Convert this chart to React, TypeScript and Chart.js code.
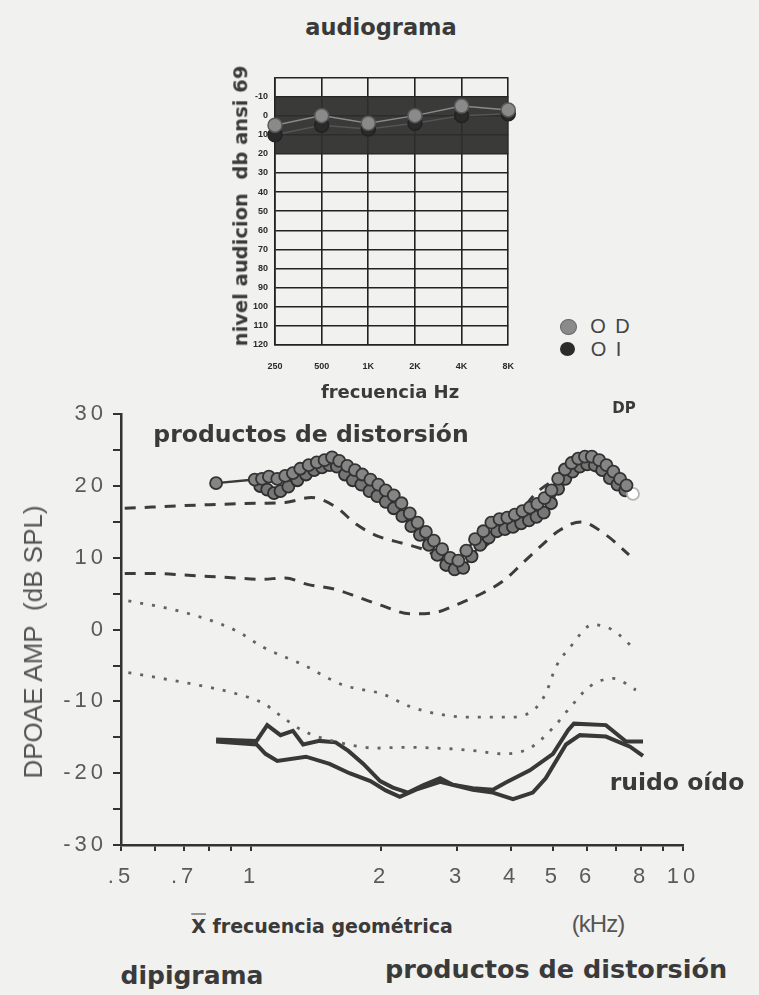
import React, { useEffect, useRef } from 'react';
import { Chart, registerables } from 'chart.js';

Chart.register(...registerables);

const SANS = '"Liberation Sans", Arial, Helvetica, sans-serif';
const WIDE = '"DejaVu Sans", Verdana, sans-serif';

// ---------- audiogram ----------
const audioFreqLabels = ['250', '500', '1K', '2K', '4K', '8K'];
const audioOD = [5, 0, 4, 0, -5, -3];
const audioOI = [10, 5, 7, 4, 0, -1];
const audioMin = -20;
const audioMax = 120;
const audioBandTop = -10;
const audioBandBottom = 20;

// ---------- DPOAE ----------
const xTickValues = [0.5, 0.6, 0.7, 0.8, 0.9, 1, 2, 3, 4, 5, 6, 7, 8, 9, 10];
const xTickLabels: [number, string][] = [
  [0.5, '.5'], [0.7, '.7'], [1, '1'], [2, '2'], [3, '3'], [4, '4'], [5, '5'], [6, '6'], [8, '8'], [10, '10'],
];

const dpFreqA = [0.83, 1.02, 1.06, 1.1, 1.15, 1.2, 1.25, 1.3, 1.36, 1.42, 1.48, 1.54, 1.6, 1.67, 1.74, 1.81, 1.89, 1.97, 2.05, 2.14, 2.23, 2.33, 2.43, 2.54, 2.65, 2.77, 2.89, 3.02, 3.15, 3.3, 3.45, 3.6, 3.76, 3.92, 4.08, 4.25, 4.42, 4.6, 4.78, 4.96, 5.14, 5.33, 5.52, 5.72, 5.93, 6.15, 6.4, 6.65, 6.9, 7.15, 7.4];
const dpAmpA = [20.4, 20.9, 21.0, 21.3, 21.0, 21.4, 21.8, 22.4, 22.9, 23.3, 23.6, 24.0, 23.5, 22.8, 22.2, 21.6, 20.9, 20.2, 19.4, 18.7, 17.6, 16.2, 14.9, 13.6, 12.4, 11.2, 10.0, 9.6, 11.0, 12.6, 13.7, 14.9, 15.4, 15.6, 16.0, 16.5, 17.0, 17.5, 18.3, 19.4, 21.0, 22.3, 23.2, 23.8, 24.1, 24.1, 23.6, 22.9, 22.0, 21.0, 20.1];

const dpFreqB = [1.05, 1.09, 1.13, 1.17, 1.22, 1.28, 1.34, 1.4, 1.46, 1.52, 1.58, 1.65, 1.72, 1.8, 1.88, 1.96, 2.05, 2.14, 2.24, 2.35, 2.46, 2.58, 2.7, 2.83, 2.96, 3.1, 3.24, 3.39, 3.55, 3.71, 3.87, 4.04, 4.22, 4.4, 4.58, 4.76, 4.95, 5.14, 5.34, 5.55, 5.77, 6.0, 6.25, 6.5, 6.77, 7.05, 7.35, 7.66];
const dpAmpB = [20.0, 19.5, 19.0, 19.3, 19.9, 20.8, 21.6, 22.2, 22.6, 22.9, 22.7, 21.6, 20.8, 20.2, 19.3, 18.6, 17.8, 16.9, 15.8, 14.4, 13.2, 11.8, 10.4, 9.0, 8.4, 8.6, 10.2, 11.8, 12.8, 13.7, 14.0, 14.3, 14.8, 15.2, 15.7, 16.3, 17.6, 19.6, 21.0, 22.0, 22.7, 23.0, 22.9, 22.2, 21.1, 20.2, 19.4, 18.9];

const dashUpFreq = [0.51, 0.8, 1.05, 1.2, 1.38, 1.57, 1.75, 1.95, 2.25, 2.5, 2.75, 3.0, 3.3, 3.7, 4.1, 4.55, 5.1, 5.8, 6.6, 7.5];
const dashUpAmp = [16.9, 17.4, 17.6, 17.7, 18.4, 17.1, 14.7, 13.1, 12.0, 11.2, 10.0, 9.5, 10.5, 13.0, 15.5, 18.9, 21.0, 22.5, 21.5, 19.0];

const dashLowFreq = [0.51, 0.6, 0.7, 0.8, 0.92, 1.05, 1.2, 1.35, 1.57, 1.79, 2.02, 2.33, 2.68, 3.0, 3.44, 3.86, 4.26, 4.7, 5.17, 5.8, 6.63, 7.5];
const dashLowAmp = [7.8, 7.8, 7.6, 7.4, 7.2, 7.0, 7.2, 6.3, 5.6, 4.4, 3.3, 2.2, 2.4, 3.5, 5.1, 6.9, 9.3, 11.7, 13.8, 15.0, 13.2, 10.4];

const dotUpFreq = [0.52, 0.68, 0.92, 1.07, 1.32, 1.63, 2.02, 2.33, 2.68, 3.21, 3.89, 4.49, 4.81, 5.08, 5.47, 6.19, 6.89, 7.78];
const dotUpAmp = [4.0, 2.6, -0.1, -2.5, -4.9, -7.7, -9.0, -10.7, -11.7, -12.2, -12.2, -11.3, -8.9, -5.2, -2.5, 0.7, -0.1, -2.9];

const dotLowFreq = [0.52, 0.72, 0.92, 1.07, 1.17, 1.32, 1.57, 1.95, 2.25, 2.68, 3.21, 3.83, 4.42, 5.0, 5.47, 6.09, 6.89, 7.78];
const dotLowAmp = [-6.0, -7.5, -8.9, -10.3, -12.0, -14.1, -15.6, -16.5, -16.4, -16.5, -16.8, -17.3, -16.5, -13.7, -10.9, -7.9, -6.8, -8.4];

const noiseAFreq = [0.83, 1.03, 1.09, 1.17, 1.25, 1.32, 1.44, 1.57, 1.68, 1.82, 1.99, 2.13, 2.31, 2.5, 2.74, 2.93, 3.26, 3.63, 3.89, 4.42, 5.0, 5.42, 5.59, 6.63, 7.38, 8.08];
const noiseAAmp = [-15.3, -15.5, -13.3, -14.7, -14.1, -16.0, -15.5, -15.7, -16.9, -18.7, -21.1, -22.0, -22.7, -21.7, -20.7, -21.6, -22.1, -22.3, -21.3, -19.6, -17.3, -14.0, -13.1, -13.3, -15.6, -15.6];

const noiseBFreq = [0.83, 1.03, 1.08, 1.15, 1.34, 1.52, 1.69, 1.89, 2.05, 2.21, 2.41, 2.74, 3.26, 3.63, 4.04, 4.49, 4.81, 5.36, 5.77, 6.63, 7.54, 8.08];
const noiseBAmp = [-15.6, -16.0, -17.3, -18.3, -17.7, -18.7, -20.0, -21.1, -22.4, -23.3, -22.3, -21.2, -22.3, -22.7, -23.6, -22.7, -20.7, -16.0, -14.7, -14.9, -16.3, -17.6];

const zip = (xs: number[], ys: number[]) => xs.map((x, i) => ({ x, y: ys[i] }));

const bandPlugin = {
  id: 'audioBand',
  beforeDatasetsDraw(chart: any) {
    const { ctx, chartArea, scales } = chart;
    const y = scales.y;
    const t = y.getPixelForValue(audioBandTop);
    const b = y.getPixelForValue(audioBandBottom);
    ctx.save();
    ctx.fillStyle = 'rgba(46,46,46,0.94)';
    ctx.fillRect(chartArea.left, t, chartArea.right - chartArea.left, b - t);
    ctx.restore();
  },
};

const spacingPlugin = {
  id: 'tickSpacing',
  beforeDraw(chart: any) { chart.ctx.letterSpacing = '4px'; },
  afterDraw(chart: any) { chart.ctx.letterSpacing = '0px'; },
};

function Txt(props: { x: number; y: number; size: number; bold?: boolean; rot?: boolean; color?: string; ls?: number; font?: string; children: any }) {
  const { x, y, size, bold, rot, color, ls, font, children } = props;
  return (
    <div
      style={{
        position: 'absolute',
        left: x,
        top: y,
        transform: `translate(-50%, -50%)${rot ? ' rotate(-90deg)' : ''}`,
        fontSize: size,
        fontFamily: font || WIDE,
        fontWeight: bold ? 'bold' : 'normal',
        color: color || '#3a3a3a',
        whiteSpace: 'nowrap',
        letterSpacing: ls || 0,
        lineHeight: 1,
      }}
    >
      {children}
    </div>
  );
}

export default function App() {
  const audioRef = useRef<HTMLCanvasElement>(null);
  const dpRef = useRef<HTMLCanvasElement>(null);

  useEffect(() => {
    const audio = new Chart(audioRef.current!, {
      type: 'line',
      data: {
        labels: audioFreqLabels,
        datasets: [
          {
            label: 'OI',
            data: audioOI,
            borderColor: '#555',
            borderWidth: 1.5,
            pointRadius: 7,
            pointBackgroundColor: '#2a2a2a',
            pointBorderColor: '#222',
            order: 1,
          },
          {
            label: 'OD',
            data: audioOD,
            borderColor: '#8a8a8a',
            borderWidth: 1.5,
            pointRadius: 7,
            pointBackgroundColor: '#8a8a8a',
            pointBorderColor: '#5a5a5a',
            order: 0,
          },
        ],
      },
      options: {
        animation: false,
        responsive: false,
        maintainAspectRatio: false,
        layout: { padding: { top: 10, right: 15, left: 0, bottom: 0 } },
        plugins: { legend: { display: false }, tooltip: { enabled: false } },
        scales: {
          x: {
            type: 'category',
            offset: false,
            grid: { color: '#222', lineWidth: 1.6, drawTicks: false },
            border: { color: '#222', width: 1.6 },
            ticks: { font: { size: 9, weight: 'bold', family: SANS }, color: '#2a2a2a', padding: 16, maxRotation: 0, autoSkip: false },
            afterFit(s: any) { s.height = 30; },
          },
          y: {
            min: audioMin,
            max: audioMax,
            reverse: true,
            grid: { color: '#222', lineWidth: 1.6, drawTicks: false },
            border: { color: '#222', width: 1.6 },
            ticks: {
              stepSize: 10,
              font: { size: 9, weight: 'bold', family: SANS },
              color: '#2a2a2a',
              padding: 7,
              callback: (v: any) => (v === audioMin ? '' : String(v)),
            },
            afterFit(s: any) { s.width = 45; },
          },
        },
      },
      plugins: [bandPlugin],
    } as any);

    const dashColor = '#3c3c3c';
    const dotColor = '#636363';
    const noiseColor = '#383838';

    const dp = new Chart(dpRef.current!, {
      type: 'line',
      data: {
        datasets: [
          {
            label: 'DP A',
            data: zip(dpFreqA, dpAmpA),
            borderColor: '#3a3a3a',
            borderWidth: 2.5,
            pointRadius: 6,
            pointBorderWidth: 1.8,
            pointBackgroundColor: '#858585',
            pointBorderColor: '#333333',
            order: 0,
          },
          {
            label: 'DP B',
            data: zip(dpFreqB, dpAmpB),
            borderColor: '#3a3a3a',
            borderWidth: 2.5,
            pointRadius: 6,
            pointBorderWidth: 1.8,
            pointBackgroundColor: dpFreqB.map((_, i) => (i === dpFreqB.length - 1 ? '#ffffff' : '#767676')),
            pointBorderColor: dpFreqB.map((_, i) => (i === dpFreqB.length - 1 ? '#b5b5b5' : '#2e2e2e')),
            order: 1,
          },
          {
            label: 'DP norm high',
            data: zip(dashUpFreq, dashUpAmp),
            borderColor: dashColor,
            borderWidth: 3,
            borderDash: [11, 9],
            pointRadius: 0,
            cubicInterpolationMode: 'monotone',
            order: 2,
          },
          {
            label: 'DP norm low',
            data: zip(dashLowFreq, dashLowAmp),
            borderColor: dashColor,
            borderWidth: 3,
            borderDash: [11, 9],
            pointRadius: 0,
            cubicInterpolationMode: 'monotone',
            order: 2,
          },
          {
            label: 'noise norm high',
            data: zip(dotUpFreq, dotUpAmp),
            borderColor: dotColor,
            borderWidth: 2.8,
            borderDash: [3, 9],
            pointRadius: 0,
            cubicInterpolationMode: 'monotone',
            order: 3,
          },
          {
            label: 'noise norm low',
            data: zip(dotLowFreq, dotLowAmp),
            borderColor: dotColor,
            borderWidth: 2.8,
            borderDash: [3, 9],
            pointRadius: 0,
            cubicInterpolationMode: 'monotone',
            order: 3,
          },
          {
            label: 'noise A',
            data: zip(noiseAFreq, noiseAAmp),
            borderColor: noiseColor,
            borderWidth: 4,
            pointRadius: 0,
            tension: 0,
            order: 4,
          },
          {
            label: 'noise B',
            data: zip(noiseBFreq, noiseBAmp),
            borderColor: noiseColor,
            borderWidth: 4,
            pointRadius: 0,
            tension: 0,
            order: 4,
          },
        ],
      },
      options: {
        animation: false,
        responsive: false,
        maintainAspectRatio: false,
        layout: { padding: { top: 13, right: 76, left: 0, bottom: 0 } },
        plugins: { legend: { display: false }, tooltip: { enabled: false } },
        scales: {
          x: {
            type: 'logarithmic',
            min: 0.5,
            max: 10,
            afterBuildTicks(s: any) { s.ticks = xTickValues.map((v) => ({ value: v })); },
            ticks: {
              autoSkip: false,
              maxRotation: 0,
              font: { size: 22, family: SANS },
              color: '#5a5a5a',
              padding: 13,
              callback: (v: any) => {
                const hit = xTickLabels.find(([k]) => Math.abs(k - Number(v)) < 1e-6);
                return hit ? hit[1] : '';
              },
            },
            grid: { drawOnChartArea: false, tickLength: 6, color: '#333', lineWidth: 2 },
            border: { color: '#333', width: 2.5 },
            afterFit(s: any) { s.height = 55; },
          },
          y: {
            min: -30,
            max: 30,
            ticks: {
              stepSize: 5,
              font: { size: 22, family: SANS },
              color: '#5a5a5a',
              padding: 6,
              callback: (v: any) => (Number(v) % 10 === 0 ? String(v) : ''),
            },
            grid: { drawOnChartArea: false, tickLength: 8, color: '#333', lineWidth: 2 },
            border: { color: '#333', width: 2.5 },
            afterFit(s: any) { s.width = 121; },
          },
        },
      },
      plugins: [spacingPlugin],
    } as any);

    return () => {
      audio.destroy();
      dp.destroy();
    };
  }, []);

  return (
    <div
      style={{
        position: 'absolute',
        left: 0,
        top: 0,
        width: 759,
        height: 995,
        background: '#f1f1ef',
        fontFamily: SANS,
        overflow: 'hidden',
      }}
    >
      <canvas ref={audioRef} width={300} height={310} style={{ position: 'absolute', left: 230, top: 65 }} />
      <canvas ref={dpRef} width={759} height={505} style={{ position: 'absolute', left: 0, top: 395 }} />

      <Txt x={381} y={27} size={22.5} bold>audiograma</Txt>
      <Txt x={241} y={206} size={19.5} bold rot>nivel audicion&nbsp;&nbsp;db ansi 69</Txt>
      <Txt x={390} y={392} size={18} bold>frecuencia Hz</Txt>

      <div style={{ position: 'absolute', left: 560, top: 319, width: 15, height: 14, borderRadius: '50%', background: '#8a8a8a', border: '1px solid #666' }} />
      <div style={{ position: 'absolute', left: 560, top: 342, width: 15, height: 14, borderRadius: '50%', background: '#2c2c2c' }} />
      <Txt x={611} y={326} size={20} ls={2} font={SANS} color="#444">O D</Txt>
      <Txt x={607} y={349} size={20} ls={2} font={SANS} color="#444">O I</Txt>

      <Txt x={624} y={408} size={15} bold>DP</Txt>
      <Txt x={311} y={435} size={23.5} bold>productos de distorsión</Txt>
      <Txt x={33} y={642} size={26} rot color="#555" font={SANS}>DPOAE AMP&nbsp;&nbsp;(dB SPL)</Txt>
      <Txt x={677} y={783} size={23.5} bold>ruido oído</Txt>
      <Txt x={322} y={926} size={19} bold>
        <span style={{ textDecoration: 'overline' }}>X</span> frecuencia geométrica
      </Txt>
      <Txt x={598} y={924} size={24} color="#555" font={SANS} ls={-1}>(kHz)</Txt>
      <Txt x={192} y={975} size={25} bold>dipigrama</Txt>
      <Txt x={556} y={970} size={25.5} bold>productos de distorsión</Txt>
    </div>
  );
}
